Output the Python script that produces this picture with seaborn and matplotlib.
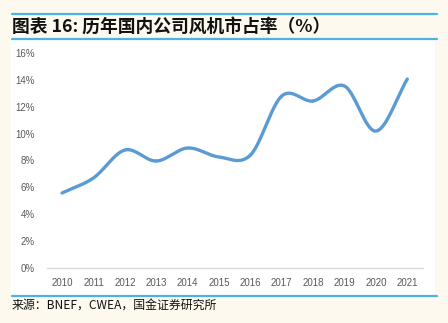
import numpy as np
import pandas as pd
import seaborn as sns
import matplotlib
matplotlib.use("Agg")
import matplotlib.pyplot as plt
from matplotlib.patches import Rectangle
from matplotlib.lines import Line2D

years = ["2010", "2011", "2012", "2013", "2014", "2015", "2016",
         "2017", "2018", "2019", "2020", "2021"]
share = [5.58, 6.7, 8.78, 7.96, 8.93, 8.26, 8.4, 12.8, 12.43, 13.54, 10.19, 14.06]
yticks = [0, 2, 4, 6, 8, 10, 12, 14, 16]
title = "图表 16: 历年国内公司风机市占率（%）"
source = "来源：BNEF，CWEA，国金证券研究所"

sns.set_theme(style="white")
plt.rcParams['font.family'] = ['Noto Sans CJK SC', 'DejaVu Sans']

W, H = 448, 323
fig = plt.figure(figsize=(W / 100, H / 100), dpi=100)
bg = "#FDF9EF"
fig.patch.set_facecolor(bg)

# white panel
fig.patches.append(Rectangle((11 / W, 1 - 296 / H), (435 - 11) / W, (296 - 39) / H,
                             transform=fig.transFigure, facecolor="white",
                             edgecolor="none", zorder=-5))
blue = "#4BB3E3"
for yy in (14, 39, 296):
    fig.add_artist(Line2D([12 / W, 437 / W], [1 - yy / H, 1 - yy / H],
                          transform=fig.transFigure, color=blue, lw=1.6))

fig.text(12 / W, 1 - 26.5 / H, title, fontsize=12.8, fontweight="bold",
         style="italic", color="#111111", va="center", ha="left")
fig.text(12 / W, 1 - 305 / H, source, fontsize=8.6, color="#111111",
         va="center", ha="left")

ax = fig.add_axes([47 / W, 1 - 268 / H, (423 - 47) / W, (268 - 53) / H])
ax.set_facecolor("none")
ax.set_zorder(3)

# smooth (Catmull-Rom) rendering of the data points, Excel style
x = np.arange(len(share), dtype=float)
yv = np.array(share)
px = np.concatenate([[2 * x[0] - x[1]], x, [2 * x[-1] - x[-2]]])
py = np.concatenate([[2 * yv[0] - yv[1]], yv, [2 * yv[-1] - yv[-2]]])
xs, ys = [], []
t = np.linspace(0, 1, 30)
for i in range(1, len(px) - 2):
    for P, out in ((px, xs), (py, ys)):
        p0, p1, p2, p3 = P[i - 1], P[i], P[i + 1], P[i + 2]
        seg = 0.5 * ((2 * p1) + (-p0 + p2) * t + (2 * p0 - 5 * p1 + 4 * p2 - p3) * t ** 2
                     + (-p0 + 3 * p1 - 3 * p2 + p3) * t ** 3)
        out.extend(seg)
df = pd.DataFrame({"x": xs, "y": ys})
sns.lineplot(data=df, x="x", y="y", ax=ax, color="#5B9BD5", lw=2.4, sort=False,
             estimator=None)

ax.set_xlim(-0.48, len(years) - 0.5)
ax.set_ylim(0, 16)
ax.set_xticks(range(len(years)))
ax.set_xticklabels(years)
ax.set_yticks(yticks)
ax.set_yticklabels([f"{v}%" for v in yticks])
ax.set_xlabel("")
ax.set_ylabel("")
for s in ("top", "right", "left"):
    ax.spines[s].set_visible(False)
ax.spines["bottom"].set_color("#D9D9D9")
ax.spines["bottom"].set_linewidth(1.0)
ax.tick_params(axis="both", length=0, labelsize=7, labelcolor="#595959")
ax.tick_params(axis="y", pad=9)
ax.tick_params(axis="x", pad=7)
for lab in ax.get_xticklabels() + ax.get_yticklabels():
    lab.set_fontfamily(["Liberation Sans", "DejaVu Sans"])

fig.savefig("out.png", dpi=100, facecolor=bg)
